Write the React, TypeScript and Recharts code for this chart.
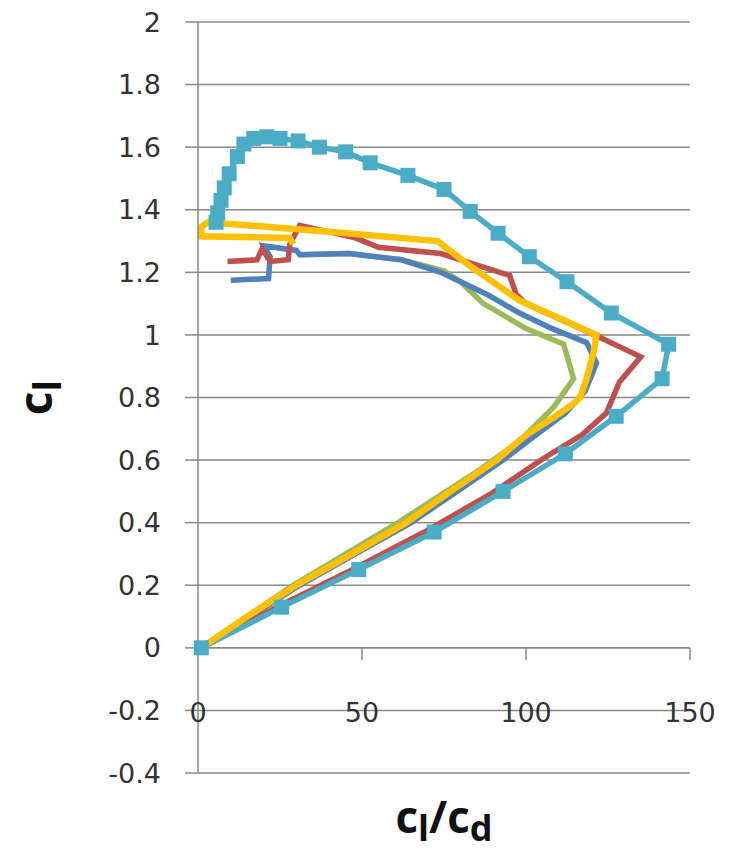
import { LineChart, Line, XAxis, YAxis, CartesianGrid, ReferenceLine } from "recharts"

const xTicks = [0, 50, 100, 150]
const yTicks = [-0.4, -0.2, 0, 0.2, 0.4, 0.6, 0.8, 1, 1.2, 1.4, 1.6, 1.8, 2]

// dark blue
const blueX = [1, 16, 31, 48, 65, 79, 93, 103, 112, 118, 121.5, 118.5, 108, 98, 88, 74, 62, 46, 31, 30, 20, 22, 21.5, 10]
const blueY = [0, 0.1, 0.2, 0.3, 0.4, 0.5, 0.6, 0.68, 0.75, 0.82, 0.91, 0.975, 1.02, 1.07, 1.13, 1.2, 1.24, 1.26, 1.256, 1.27, 1.285, 1.25, 1.18, 1.175]

// red
const redX = [1, 24, 47, 69, 89, 106, 117, 124.5, 128.5, 135, 121, 100, 97, 95, 74, 55, 48, 31, 28, 27.5, 22, 19.5, 18, 9]
const redY = [0, 0.13, 0.25, 0.37, 0.49, 0.61, 0.68, 0.75, 0.85, 0.93, 1.0, 1.1, 1.13, 1.19, 1.26, 1.28, 1.31, 1.35, 1.29, 1.24, 1.235, 1.275, 1.24, 1.235]

// green
const greenX = [1, 29, 61, 86, 98, 108.5, 114.5, 111.5, 100, 92, 87, 80, 75, 62, 46, 31]
const greenY = [0, 0.2, 0.4, 0.57, 0.66, 0.77, 0.86, 0.97, 1.02, 1.07, 1.1, 1.17, 1.205, 1.24, 1.26, 1.256]

// light blue, square markers
const aquaX = [1, 25.5, 49, 72, 93, 112, 127.5, 141.5, 143.5, 126, 112.5, 101, 91.5, 83, 75, 64, 52.5, 45, 37, 30.5, 25, 21, 17, 14, 12, 9.5, 8, 7, 6, 5.5]
const aquaY = [0, 0.13, 0.25, 0.37, 0.5, 0.62, 0.74, 0.86, 0.97, 1.07, 1.17, 1.25, 1.325, 1.395, 1.465, 1.51, 1.55, 1.585, 1.6, 1.62, 1.628, 1.633, 1.628, 1.61, 1.57, 1.515, 1.47, 1.43, 1.39, 1.36]

// yellow
const yellowX = [1, 15, 30, 47, 63.5, 77, 91, 100, 109, 114.5, 116.5, 118.5, 120.5, 121.5, 98, 83, 73, 40, 3, 1, 1, 28, 29]
const yellowY = [0, 0.1, 0.2, 0.3, 0.4, 0.5, 0.6, 0.68, 0.74, 0.78, 0.8, 0.86, 0.94, 1.0, 1.11, 1.22, 1.3, 1.33, 1.36, 1.345, 1.315, 1.31, 1.29]

const zip = (xs: number[], ys: number[]) => xs.map((x, i) => ({ x, y: ys[i] }))

const axisGray = "#898989"
const font = "DejaVu Sans"

const SquareDot = (props: any) => {
  const { cx, cy, index } = props
  if (cx == null || cy == null) return <g key={index} />
  return <rect key={index} x={cx - 7.5} y={cy - 7.5} width={15} height={15} fill="#4bacc6" />
}

const XTick = (props: any) => {
  const { x, y, payload } = props
  return (
    <text x={x} y={y - 51} textAnchor="middle" fontFamily={font} fontSize={27} fill="#333">
      {payload.value}
    </text>
  )
}

const YTitle = (props: any) => {
  const vb = props.viewBox
  const cx = 52
  const cy = vb.y + vb.height / 2
  return (
    <text
      x={cx}
      y={cy}
      transform={`rotate(-90, ${cx}, ${cy})`}
      textAnchor="middle"
      fontFamily="Open Sans"
      fontWeight="bold"
      fontSize={46}
      fill="#111"
    >
      c<tspan dy={9} fontSize={38}>l</tspan>
    </text>
  )
}

const XTitle = (props: any) => {
  const vb = props.viewBox
  const cx = vb.x + vb.width / 2
  return (
    <text x={cx} y={833} textAnchor="middle" fontFamily="Open Sans" fontWeight="bold" fontSize={44} fill="#111">
      c<tspan dy={8} fontSize={36}>l</tspan>
      <tspan dy={-8} fontSize={44}>/c</tspan>
      <tspan dy={8} fontSize={36}>d</tspan>
    </text>
  )
}

export default function App() {
  return (
    <div style={{ position: "absolute", left: 0, top: 0, background: "#fff" }}>
      <LineChart width={743} height={858} margin={{ top: 22, right: 53, bottom: 0, left: 0 }}>
        <CartesianGrid horizontal vertical={false} stroke={axisGray} strokeWidth={1.5} />
        <XAxis
          type="number"
          dataKey="x"
          domain={[0, 150]}
          ticks={xTicks}
          interval={0}
          height={85}
          axisLine={false}
          tickLine={false}
          tickSize={0}
          tickMargin={0}
          tick={<XTick />}
          label={{ content: <XTitle /> }}
        />
        <YAxis
          type="number"
          domain={[-0.4, 2]}
          ticks={yTicks}
          interval={0}
          width={198}
          axisLine={{ stroke: axisGray, strokeWidth: 1.5 }}
          tickLine={{ stroke: axisGray, strokeWidth: 1.5 }}
          tickSize={13}
          tickMargin={24}
          tick={{ fontFamily: font, fontSize: 27, fill: "#333" }}
          label={{ content: <YTitle /> }}
        />
        <ReferenceLine y={0} stroke={axisGray} strokeWidth={1.5} />
        {xTicks.slice(1).map((t) => (
          <ReferenceLine
            key={t}
            segment={[
              { x: t, y: 0 },
              { x: t, y: -0.04 },
            ]}
            stroke={axisGray}
            strokeWidth={1.5}
          />
        ))}
        <Line data={zip(greenX, greenY)} dataKey="y" type="linear" stroke="#9bbb59" strokeWidth={5.5} dot={false} isAnimationActive={false} />
        <Line data={zip(blueX, blueY)} dataKey="y" type="linear" stroke="#4f81bd" strokeWidth={5.5} dot={false} isAnimationActive={false} />
        <Line data={zip(redX, redY)} dataKey="y" type="linear" stroke="#c0504d" strokeWidth={5.5} dot={false} isAnimationActive={false} />
        <Line data={zip(aquaX, aquaY)} dataKey="y" type="linear" stroke="#4bacc6" strokeWidth={5.5} dot={<SquareDot />} isAnimationActive={false} />
        <Line data={zip(yellowX, yellowY)} dataKey="y" type="linear" stroke="#ffc000" strokeWidth={6.5} dot={false} isAnimationActive={false} />
      </LineChart>
    </div>
  )
}
